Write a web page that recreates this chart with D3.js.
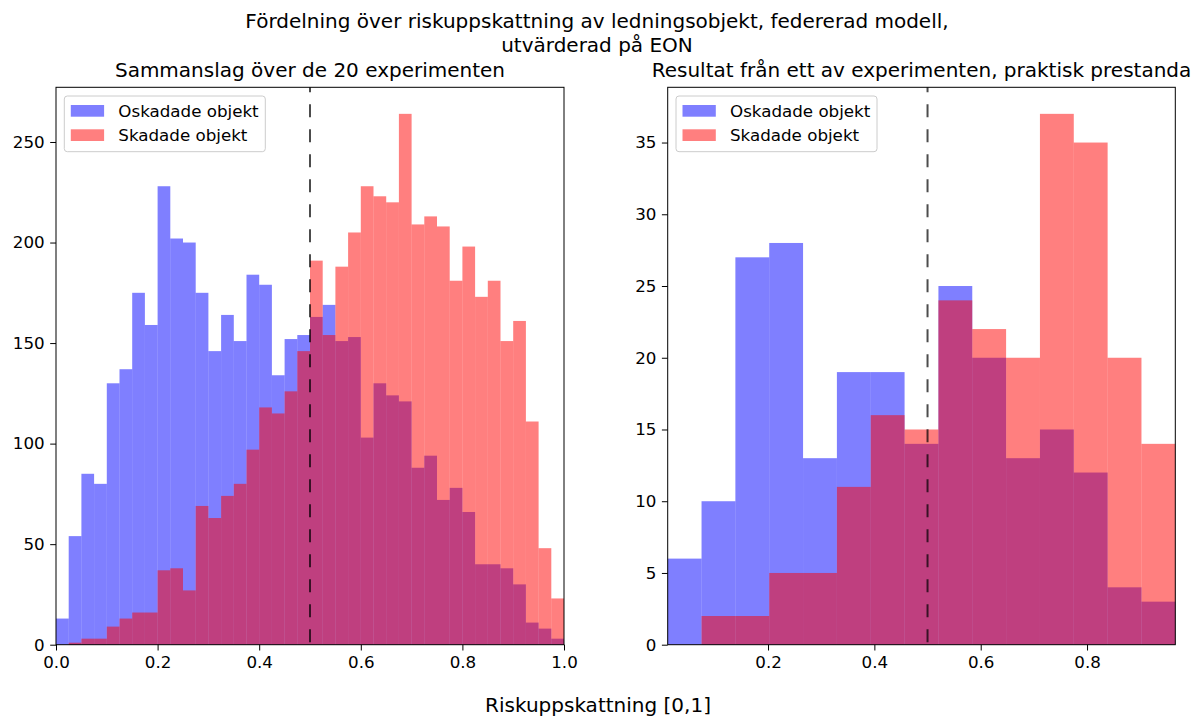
<!DOCTYPE html>
<html>
<head>
<meta charset="utf-8">
<script src="https://cdn.jsdelivr.net/npm/d3@7"></script>
<style>
  html, body { margin: 0; padding: 0; background: #fff; }
  svg { display: block; font-family: "DejaVu Sans", sans-serif; }
</style>
</head>
<body>
<svg id="chart" width="1194" height="717"></svg>
<script>
// Histogram counts: aggregated over 20 experiments (40 bins on [0, 1])
const pooledRange = [0, 1];
const pooledUndamaged = [13, 54, 85, 80, 130, 137, 175, 159, 228, 202, 200, 175, 146, 164, 151, 184, 179, 134, 152, 154,
                         163, 169, 151, 153, 103, 130, 124, 121, 88, 94, 72, 78, 66, 40, 40, 38, 30, 11, 8, 3];
const pooledDamaged   = [0, 1, 3, 3, 9, 13, 16, 16, 37, 38, 27, 69, 63, 74, 80, 97, 118, 115, 126, 146,
                         191, 154, 188, 205, 228, 223, 220, 264, 209, 213, 208, 181, 198, 173, 181, 151, 161, 111, 48, 23];
const pooledYTicks = [0, 50, 100, 150, 200, 250];
const pooledXTicks = [0.0, 0.2, 0.4, 0.6, 0.8, 1.0];

// Histogram counts: a single experiment (15 bins between min and max score)
const singleRange = [0.0113, 0.966];
const singleUndamaged = [6, 10, 27, 28, 13, 19, 19, 14, 25, 20, 13, 15, 12, 4, 3];
const singleDamaged   = [0, 2, 2, 5, 5, 11, 16, 15, 24, 22, 20, 37, 35, 20, 14];
const singleYTicks = [0, 5, 10, 15, 20, 25, 30, 35];
const singleXTicks = [0.2, 0.4, 0.6, 0.8];

const threshold = 0.5;
const seriesNames = ["Oskadade objekt", "Skadade objekt"];
const seriesColors = ["#0000ff", "#ff0000"];

const titleLines = ["Fördelning över riskuppskattning av ledningsobjekt, federerad modell,", "utvärderad på EON"];
const panelTitles = ["Sammanslag över de 20 experimenten", "Resultat från ett av experimenten, praktisk prestanda"];
const xLabel = "Riskuppskattning [0,1]";

const svg = d3.select("#chart");
const plotTop = 87.3, plotBottom = 644.7;
const tickFont = 16.7, titleFont = 20;

function drawPanel(cfg) {
  const g = svg.append("g");
  const x = d3.scaleLinear().domain(cfg.range).range([cfg.left, cfg.right]);
  const yMax = d3.max(cfg.series.flat()) * 1.05;
  const y = d3.scaleLinear().domain([0, yMax]).range([plotBottom, plotTop]);
  const n = cfg.series[0].length;
  const step = (cfg.range[1] - cfg.range[0]) / n;

  cfg.series.forEach((counts, si) => {
    g.append("g").selectAll("rect").data(counts).join("rect")
      .attr("x", (d, i) => x(cfg.range[0] + i * step))
      .attr("width", (d, i) => x(cfg.range[0] + (i + 1) * step) - x(cfg.range[0] + i * step))
      .attr("y", d => y(d))
      .attr("height", d => plotBottom - y(d))
      .attr("fill", seriesColors[si])
      .attr("fill-opacity", 0.5);
  });

  // threshold line
  g.append("line")
    .attr("x1", x(threshold)).attr("x2", x(threshold))
    .attr("y1", plotBottom).attr("y2", plotTop)
    .attr("stroke", "#000").attr("stroke-opacity", 0.7)
    .attr("stroke-width", 2)
    .attr("stroke-dasharray", "13,12")
    .attr("stroke-dashoffset", -2.4);

  // frame
  g.append("rect")
    .attr("x", cfg.left).attr("y", plotTop)
    .attr("width", cfg.right - cfg.left).attr("height", plotBottom - plotTop)
    .attr("fill", "none").attr("stroke", "#000").attr("stroke-width", 1);

  const xAxis = d3.axisBottom(x).tickValues(cfg.xTicks).tickFormat(d3.format(".1f"))
    .tickSizeInner(5.8).tickSizeOuter(0).tickPadding(5.5);
  const yAxis = d3.axisLeft(y).tickValues(cfg.yTicks).tickFormat(d3.format("d"))
    .tickSizeInner(5.8).tickSizeOuter(0).tickPadding(5.5);

  const gx = g.append("g").attr("transform", `translate(0,${plotBottom})`).call(xAxis);
  const gy = g.append("g").attr("transform", `translate(${cfg.left},0)`).call(yAxis);
  [gx, gy].forEach(a => {
    a.select(".domain").remove();
    a.selectAll("text").attr("font-size", tickFont).attr("fill", "#000")
      .attr("font-family", "DejaVu Sans, sans-serif");
    a.selectAll("line").attr("stroke", "#000").attr("stroke-width", 1);
  });

  g.append("text")
    .attr("x", (cfg.left + cfg.right) / 2).attr("y", 77)
    .attr("text-anchor", "middle").attr("font-size", titleFont)
    .text(cfg.title);

  // legend
  const lg = g.append("g").attr("transform", `translate(${cfg.left + 8.3},96)`);
  lg.append("rect").attr("width", 201).attr("height", 55.7)
    .attr("rx", 3).attr("ry", 3)
    .attr("fill", "#fff").attr("fill-opacity", 0.8)
    .attr("stroke", "#cccccc").attr("stroke-width", 1);
  seriesNames.forEach((name, i) => {
    lg.append("rect").attr("x", 6.5).attr("y", 9 + i * 24.3)
      .attr("width", 33.3).attr("height", 11.7)
      .attr("fill", seriesColors[i]).attr("fill-opacity", 0.5);
    lg.append("text").attr("x", 54).attr("y", 20.5 + i * 24.3)
      .attr("font-size", tickFont).text(name);
  });
}

drawPanel({
  left: 56, right: 564, range: pooledRange,
  series: [pooledUndamaged, pooledDamaged],
  xTicks: pooledXTicks, yTicks: pooledYTicks, title: panelTitles[0]
});
drawPanel({
  left: 667.7, right: 1175.3, range: singleRange,
  series: [singleUndamaged, singleDamaged],
  xTicks: singleXTicks, yTicks: singleYTicks, title: panelTitles[1]
});

titleLines.forEach((t, i) => {
  svg.append("text").attr("x", 597).attr("y", 28 + i * 23.5)
    .attr("text-anchor", "middle").attr("font-size", titleFont).text(t);
});

svg.append("text").attr("x", 598).attr("y", 712)
  .attr("text-anchor", "middle").attr("font-size", titleFont).text(xLabel);
</script>
</body>
</html>
